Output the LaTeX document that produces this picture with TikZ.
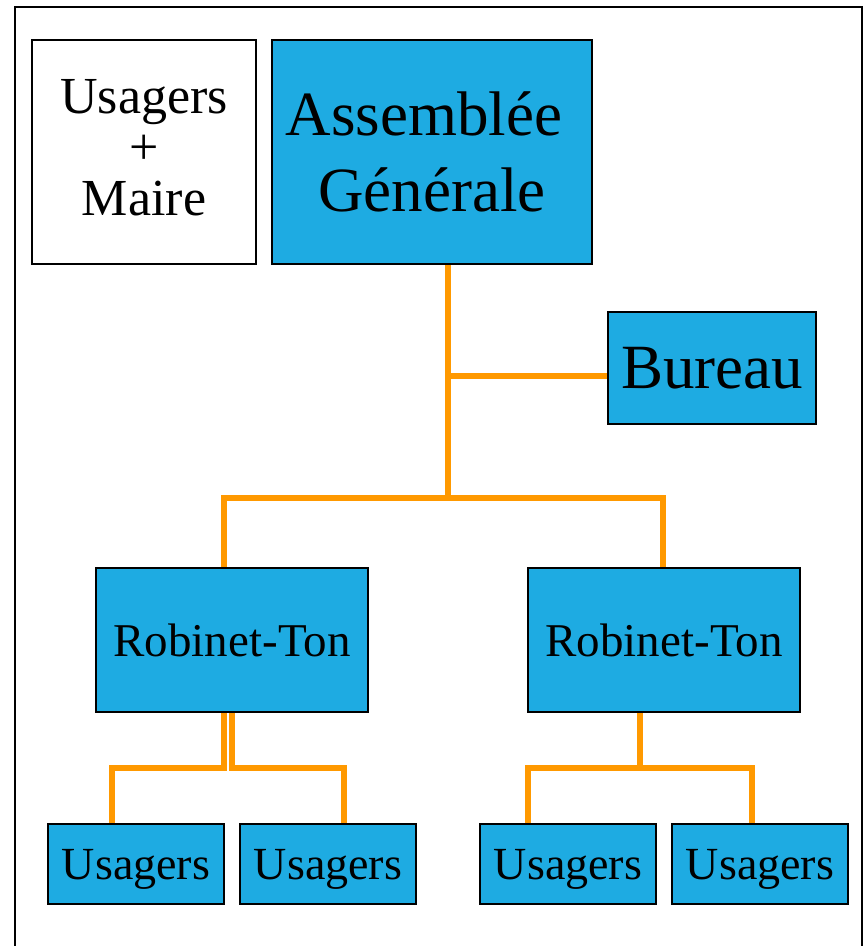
\documentclass[tikz,border=0pt]{standalone}
\usepackage{fontspec}
\setmainfont{Liberation Serif}
\definecolor{boxblue}{RGB}{30,171,226}
\definecolor{linkorange}{RGB}{255,153,0}
\tikzset{
  box/.style={draw=black, line width=2pt, fill=boxblue, inner sep=0pt, align=center, text=black},
  whitebox/.style={box, fill=white},
  oneline/.style={box, text depth=0pt},
  link/.style={draw=linkorange, line width=6pt, line cap=butt, line join=miter},
}
\begin{document}
\begin{tikzpicture}[x=1pt, y=-1pt]
\useasboundingbox (0,0) rectangle (864,946);
% frame (open at the bottom)
\draw[line width=2pt] (15,946) -- (15,7) -- (862,7) -- (862,946);

% top row
\node[whitebox, minimum width=224, minimum height=224, text depth=10pt,
      font=\fontsize{52}{51}\selectfont] (um) at (144,152) {Usagers\\+\\Maire};
\node[box, minimum width=320, minimum height=224,
      font=\fontsize{63}{76}\selectfont] (ag) at (432,152) {Assemblée\hspace*{0.25em}\\Générale};
\node[oneline, minimum width=208, minimum height=112,
      font=\fontsize{63}{76}\selectfont] (bur) at (712,368) {Bureau};

% middle row
\node[oneline, minimum width=272, minimum height=144,
      font=\fontsize{47}{56}\selectfont] (rt1) at (232,640) {Robinet-Ton};
\node[oneline, minimum width=272, minimum height=144,
      font=\fontsize{47}{56}\selectfont] (rt2) at (664,640) {Robinet-Ton};

% bottom row
\foreach \n/\x in {u1/136, u2/328, u3/568, u4/760}
  \node[oneline, minimum width=176, minimum height=80,
        font=\fontsize{46}{55}\selectfont] (\n) at (\x,864) {Usagers};

% junctions on the trunk
\coordinate (j1) at (448,376);
\coordinate (j2) at (448,498);

% connectors
\draw[link] ([xshift=16]ag.south) -- (j2);
\draw[link] (j1) -- (j1 -| bur.west);
\draw[link] ([xshift=-8]rt1.north) |- (j2) -| ([xshift=-1]rt2.north);

\draw[link] ([xshift=-8]rt1.south) -- ++(0,55) -| ([xshift=-24]u1.north);
\draw[link] (rt1.south) -- ++(0,55) -| ([xshift=16]u2.north);
\draw[link] ([xshift=-24]rt2.south) -- ++(0,55) -| ([xshift=-40]u3.north);
\draw[link] ([xshift=-24]rt2.south) -- ++(0,55) -| ([xshift=-8]u4.north);
\end{tikzpicture}
\end{document}
